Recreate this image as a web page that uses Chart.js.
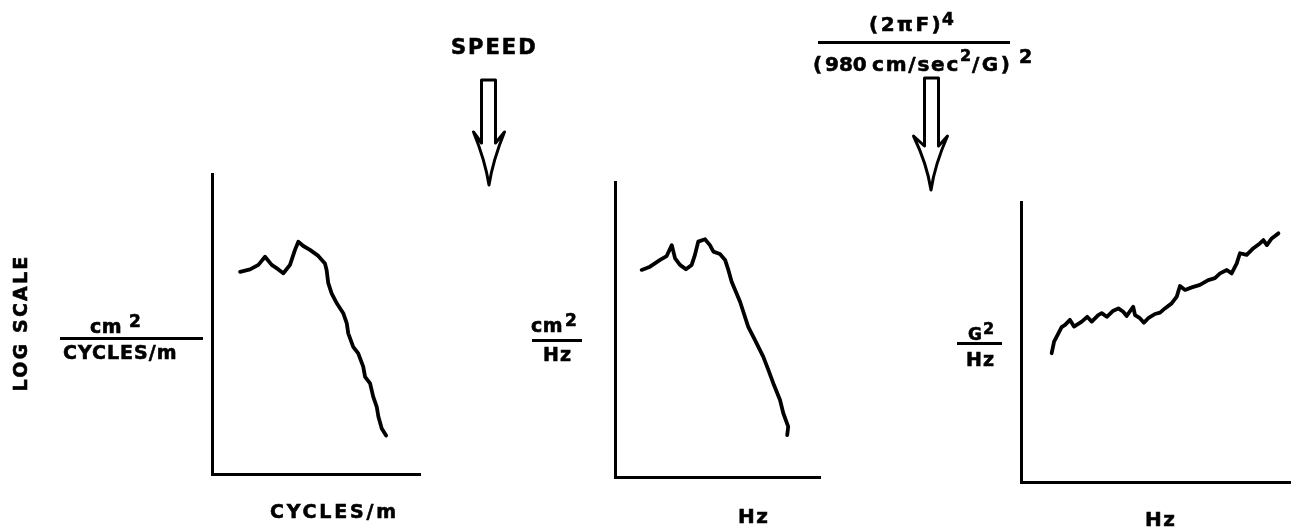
<!DOCTYPE html>
<html>
<head>
<meta charset="utf-8">
<script src="https://cdn.jsdelivr.net/npm/chart.js@4.4.1/dist/chart.umd.min.js"></script>
<style>
  html, body { margin: 0; padding: 0; background: #fff; }
  #wrap { position: relative; width: 1295px; height: 532px; overflow: hidden; background: #fff; }
  canvas { position: absolute; }
  svg { position: absolute; left: 0; top: 0; pointer-events: none; }
  svg text { font-family: "DejaVu Sans", sans-serif; font-weight: bold; fill: #000; stroke: #000; stroke-width: 0.6px; }
</style>
</head>
<body>
<div id="wrap">
  <canvas id="c1" width="216" height="308" style="left:208px;top:170px;width:216px;height:308px"></canvas>
  <canvas id="c2" width="213" height="303" style="left:611px;top:178px;width:213px;height:303px"></canvas>
  <canvas id="c3" width="277" height="288" style="left:1017px;top:198px;width:277px;height:288px"></canvas>

  <svg width="1295" height="532" viewBox="0 0 1295 532">
    <!-- common vertical label -->
    <text transform="translate(27,323) rotate(-90)" text-anchor="middle" font-size="19" letter-spacing="2.2">LOG SCALE</text>

    <!-- panel 1 y label -->
    <text x="90" y="333" font-size="19" letter-spacing="0.5">cm</text>
    <text x="129" y="327" font-size="17">2</text>
    <line x1="60" y1="338.5" x2="203" y2="338.5" stroke="#000" stroke-width="2.8"/>
    <text x="63" y="359" font-size="19" letter-spacing="1">CYCLES/m</text>

    <!-- panel 2 y label -->
    <text x="531" y="332" font-size="19" letter-spacing="0.5">cm</text>
    <text x="565" y="326" font-size="17">2</text>
    <line x1="532" y1="340.5" x2="582" y2="340.5" stroke="#000" stroke-width="2.8"/>
    <text x="543" y="361" font-size="19" letter-spacing="1">Hz</text>

    <!-- panel 3 y label -->
    <text x="968" y="340" font-size="17">G</text>
    <text x="983" y="334" font-size="16">2</text>
    <line x1="957" y1="343.5" x2="1002" y2="343.5" stroke="#000" stroke-width="2.8"/>
    <text x="966" y="366" font-size="19" letter-spacing="1">Hz</text>

    <!-- x labels -->
    <text x="270" y="518" font-size="19" letter-spacing="2.8">CYCLES/m</text>
    <text x="738" y="523" font-size="20" letter-spacing="1.5">Hz</text>
    <text x="1145" y="526" font-size="20" letter-spacing="1.5">Hz</text>

    <!-- SPEED + arrow -->
    <text x="451" y="54" font-size="21" letter-spacing="2">SPEED</text>
    <path d="M481.5,80 L495.5,80 L495.5,143 L504.5,132 Q493,160 489,185 Q485,160 473.5,132 L481.5,143 Z"
          fill="#fff" stroke="#000" stroke-width="3" stroke-linejoin="round"/>

    <!-- formula + arrow -->
    <text x="869" y="31" font-size="20" letter-spacing="2.5">(2πF)</text>
    <text x="942" y="25" font-size="17">4</text>
    <line x1="818" y1="42.5" x2="1010" y2="42.5" stroke="#000" stroke-width="2.8"/>
    <text x="813" y="71" font-size="20">(</text>
    <text x="825" y="71" font-size="20">980</text>
    <text x="872" y="71" font-size="20" letter-spacing="1.8">cm/sec</text>
    <text x="960" y="61" font-size="16">2</text>
    <text x="972" y="71" font-size="20" letter-spacing="2.5">/G)</text>
    <text x="1019" y="63" font-size="19">2</text>
    <path d="M924.5,78 L938.5,78 L938.5,146 L947.5,136 Q935,164 931,190 Q927,164 913.5,136 L924.5,146 Z"
          fill="#fff" stroke="#000" stroke-width="3" stroke-linejoin="round"/>
  </svg>
</div>

<script>
// Relative units: x 0..100 along each axis, y 0..100 (log-scale PSD, arbitrary units)
const p1X = [13.5, 18.3, 22.3, 25.5, 28.7, 31.9, 34.3, 37.5, 39.9, 41.5, 43.9, 47.1, 51.1, 54.3, 55.1, 55.9, 57.5, 60.0, 63.1, 64.8, 65.5, 67.9, 70.3, 72.7, 73.6, 76.0, 77.5, 79.2, 80.0, 81.6, 83.7];
const p1Y = [67.4, 68.2, 69.7, 72.4, 69.7, 68.2, 66.9, 69.7, 74.7, 77.4, 76.0, 74.7, 72.7, 70.2, 68.0, 63.6, 60.2, 56.9, 53.6, 50.2, 46.9, 42.4, 40.2, 35.8, 32.4, 30.2, 25.8, 22.4, 19.1, 15.2, 12.8];

const p2X = [13.0, 17.1, 22.0, 25.2, 27.7, 29.3, 31.7, 34.6, 37.4, 39.0, 40.6, 43.9, 46.3, 48.0, 51.2, 53.7, 55.3, 56.9, 61.0, 65.0, 68.3, 72.3, 74.8, 77.2, 80.5, 82.1, 84.5, 84.0];
const p2Y = [70.2, 71.3, 73.6, 74.9, 78.6, 74.1, 71.9, 70.4, 71.9, 75.3, 79.8, 80.6, 78.6, 76.4, 75.6, 73.6, 70.2, 66.2, 59.4, 50.9, 46.4, 40.8, 36.3, 31.8, 26.1, 21.6, 17.1, 14.2];

const p3X = [11.4, 12.3, 13.9, 15.1, 16.4, 18.2, 19.7, 22.6, 24.6, 26.3, 28.7, 30.0, 31.9, 34.3, 36.2, 38.0, 39.3, 41.7, 42.4, 44.2, 45.7, 47.3, 49.8, 51.7, 53.5, 56.0, 57.9, 59.1, 61.0, 63.5, 66.5, 69.6, 72.1, 74.0, 76.5, 78.3, 80.2, 81.4, 83.9, 86.4, 88.8, 90.1, 91.4, 93.2, 95.7];
const p3Y = [46.0, 50.1, 53.1, 55.3, 56.1, 57.9, 55.5, 57.3, 59.0, 57.3, 59.6, 60.3, 59.0, 61.2, 62.0, 60.8, 59.3, 62.6, 59.6, 58.5, 56.9, 58.5, 60.0, 60.5, 62.0, 63.8, 66.2, 70.0, 68.6, 69.5, 70.4, 72.1, 72.8, 74.5, 75.7, 74.5, 78.1, 81.7, 81.1, 83.5, 85.2, 86.4, 84.6, 87.0, 88.8];

function axisOpts() {
  return {
    type: 'linear', min: 0, max: 100,
    ticks: { display: false },
    grid: { display: false, drawTicks: false },
    border: { display: true, color: '#000', width: 3 }
  };
}

function makeChart(id, xs, ys) {
  new Chart(document.getElementById(id), {
    type: 'line',
    data: {
      datasets: [{
        data: xs.map((x, i) => ({ x: x, y: ys[i] })),
        borderColor: '#000',
        borderWidth: 3.8,
        pointRadius: 0,
        tension: 0,
        fill: false,
        borderJoinStyle: 'round',
        borderCapStyle: 'round'
      }]
    },
    options: {
      responsive: false,
      animation: false,
      events: [],
      layout: { padding: { left: 4, top: 4, right: 4, bottom: 4 } },
      plugins: { legend: { display: false }, tooltip: { enabled: false }, title: { display: false } },
      scales: { x: axisOpts(), y: axisOpts() }
    }
  });
}

makeChart('c1', p1X, p1Y);
makeChart('c2', p2X, p2Y);
makeChart('c3', p3X, p3Y);
</script>
</body>
</html>
